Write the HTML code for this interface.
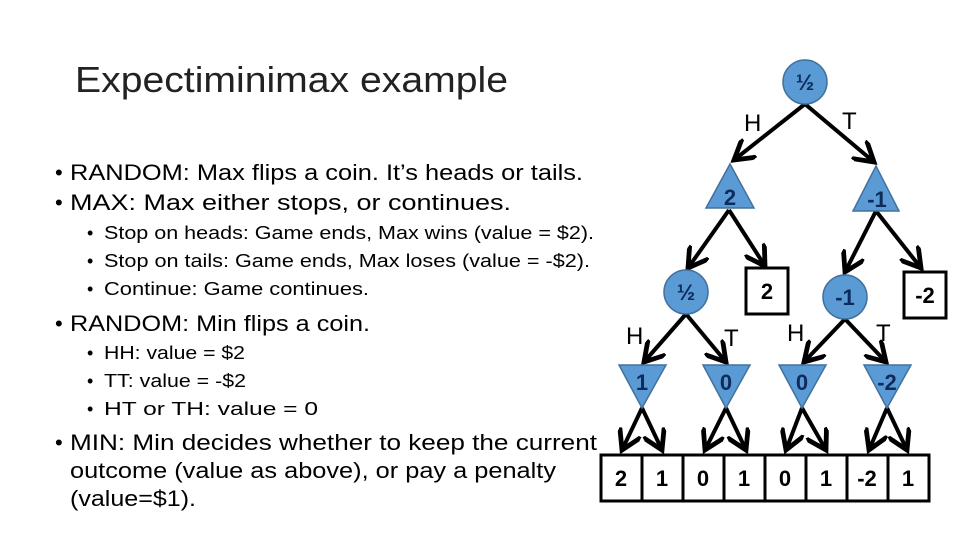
<!DOCTYPE html>
<html><head><style>html,body{margin:0;padding:0;background:#fff}svg{display:block}</style></head>
<body>
<svg width="960" height="540" viewBox="0 0 960 540" xmlns="http://www.w3.org/2000/svg" font-family="Liberation Sans, sans-serif">
<defs>
<marker id="a" markerWidth="6" markerHeight="6" refX="5" refY="3" orient="auto" markerUnits="strokeWidth">
<path d="M0,0 L5,3 L0,6" fill="none" stroke="#000" stroke-width="1.2"/>
</marker>
</defs>
<text x="75" y="92" font-size="36" fill="#222" textLength="433" lengthAdjust="spacingAndGlyphs">Expectiminimax example</text>
<g font-size="22" fill="#000">
<text x="55" y="180">•</text><text x="70" y="180" textLength="513" lengthAdjust="spacingAndGlyphs">RANDOM: Max flips a coin.  It’s heads or tails.</text>
<text x="55" y="210">•</text><text x="70" y="210" textLength="441" lengthAdjust="spacingAndGlyphs">MAX: Max either stops, or continues.</text>
<text x="55" y="331">•</text><text x="70" y="331" textLength="300" lengthAdjust="spacingAndGlyphs">RANDOM: Min flips a coin.</text>
<text x="55" y="450">•</text><text x="70" y="450" textLength="527" lengthAdjust="spacingAndGlyphs">MIN: Min decides whether to keep the current</text>
<text x="70" y="478" textLength="486" lengthAdjust="spacingAndGlyphs">outcome (value as above), or pay a penalty</text>
<text x="70" y="506" textLength="126" lengthAdjust="spacingAndGlyphs">(value=$1).</text>
</g>
<g font-size="18" fill="#000">
<text x="87" y="239">•</text><text x="104" y="239" textLength="490" lengthAdjust="spacingAndGlyphs">Stop on heads: Game ends, Max wins (value = $2).</text>
<text x="87" y="267">•</text><text x="104" y="267" textLength="486" lengthAdjust="spacingAndGlyphs">Stop on tails: Game ends, Max loses (value = -$2).</text>
<text x="87" y="295">•</text><text x="104" y="295" textLength="265" lengthAdjust="spacingAndGlyphs">Continue: Game continues.</text>
<text x="87" y="359">•</text><text x="104" y="359" textLength="141" lengthAdjust="spacingAndGlyphs">HH: value = $2</text>
<text x="87" y="387">•</text><text x="104" y="387" textLength="142" lengthAdjust="spacingAndGlyphs">TT: value = -$2</text>
<text x="87" y="415">•</text><text x="104" y="415" textLength="214" lengthAdjust="spacingAndGlyphs">HT or TH: value = 0</text>
</g>
<!-- edges -->
<g stroke="#000" stroke-width="4" marker-end="url(#a)">
<line x1="805" y1="104" x2="734" y2="160"/>
<line x1="805" y1="104" x2="874" y2="162"/>
<line x1="729" y1="210" x2="688" y2="268"/>
<line x1="729" y1="210" x2="765" y2="266"/>
<line x1="876" y1="211" x2="845" y2="272"/>
<line x1="876" y1="211" x2="921" y2="268"/>
<line x1="686" y1="314" x2="644" y2="362"/>
<line x1="686" y1="314" x2="726" y2="362"/>
<line x1="845" y1="319" x2="804" y2="362"/>
<line x1="845" y1="319" x2="886" y2="362"/>
<line x1="642" y1="408" x2="622" y2="450"/>
<line x1="642" y1="408" x2="662" y2="450"/>
<line x1="726" y1="408" x2="705" y2="450"/>
<line x1="726" y1="408" x2="746" y2="450"/>
<line x1="802" y1="408" x2="786" y2="450"/>
<line x1="802" y1="408" x2="826" y2="450"/>
<line x1="887" y1="408" x2="869" y2="450"/>
<line x1="887" y1="408" x2="907" y2="450"/>
</g>
<g font-size="24" fill="#000">
<text x="744" y="131">H</text><text x="842" y="129">T</text>
<text x="626" y="344">H</text><text x="724" y="346">T</text>
<text x="787" y="341">H</text><text x="876" y="341">T</text>
</g>
<!-- nodes -->
<g fill="#5b9bd5" stroke="#41719c" stroke-width="1.5">
<circle cx="805" cy="82" r="22"/>
<polygon points="730,164 706,208 754,208"/>
<polygon points="876,166 853,211 899,211"/>
<circle cx="686" cy="292" r="22"/>
<circle cx="845" cy="297" r="22"/>
<polygon points="619,365 666,365 642,408"/>
<polygon points="703,365 750,365 726,408"/>
<polygon points="779,365 826,365 802,408"/>
<polygon points="864,365 911,365 887,408"/>
</g>
<g font-size="22" font-weight="bold" fill="#0f2b5b" text-anchor="middle">
<text x="805" y="90">½</text>
<text x="730" y="205">2</text>
<text x="877" y="207">-1</text>
<text x="686" y="300">½</text>
<text x="845" y="305">-1</text>
<text x="642" y="390">1</text>
<text x="726" y="390">0</text>
<text x="802" y="390">0</text>
<text x="887" y="390">-2</text>
</g>
<g fill="#fff" stroke="#000" stroke-width="3">
<rect x="746" y="268" width="42" height="46"/>
<rect x="904" y="272" width="42" height="46"/>
<rect x="601" y="455" width="41" height="46"/>
<rect x="642" y="455" width="41" height="46"/>
<rect x="683" y="455" width="41" height="46"/>
<rect x="724" y="455" width="41" height="46"/>
<rect x="765" y="455" width="41" height="46"/>
<rect x="806" y="455" width="41" height="46"/>
<rect x="847" y="455" width="41" height="46"/>
<rect x="888" y="455" width="41" height="46"/>
</g>
<g font-size="22" font-weight="bold" fill="#000" text-anchor="middle">
<text x="767" y="299">2</text>
<text x="925" y="303">-2</text>
<text x="621" y="486">2</text><text x="662" y="486">1</text><text x="703" y="486">0</text><text x="744" y="486">1</text>
<text x="785" y="486">0</text><text x="826" y="486">1</text><text x="867" y="486">-2</text><text x="908" y="486">1</text>
</g>
</svg>
</body></html>
